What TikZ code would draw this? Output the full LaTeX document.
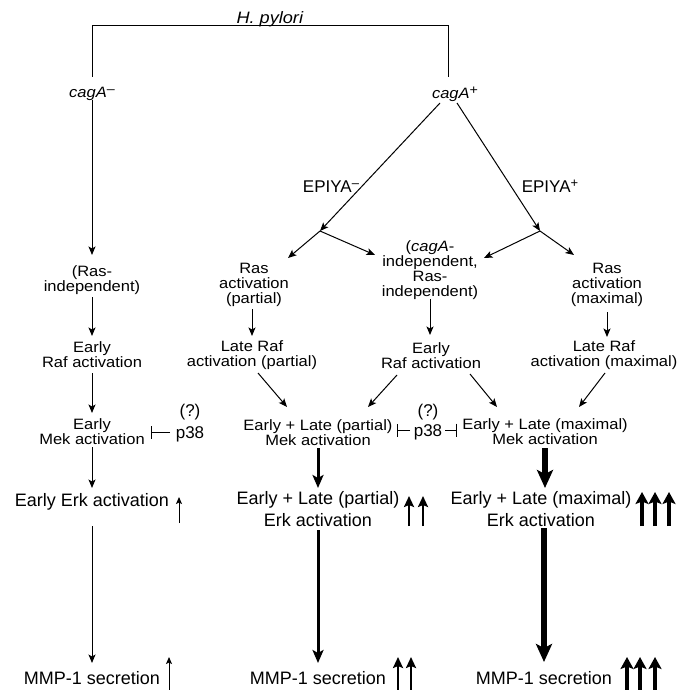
\documentclass[tikz,border=0pt]{standalone}
\usepackage{fontspec}
\setmainfont{Liberation Sans}
\newfontfamily\smfam[FakeStretch=1.1]{Liberation Sans}
\usetikzlibrary{arrows.meta}
\newcommand{\fsm}{\smfam\fontsize{15}{15}\selectfont}
\newcommand{\fbg}{\fontsize{18}{21.5}\selectfont}
\newcommand{\fmd}{\fontsize{17}{19}\selectfont}
\newcommand{\supsc}[1]{\raisebox{0.55ex}{\fontsize{13}{13}\selectfont #1}}
\begin{document}
\begin{tikzpicture}[x=1pt,y=-1pt,line join=miter,
  txt/.style={inner sep=0pt, align=center, font=\fsm},
  bigtxt/.style={inner sep=0pt, align=center, font=\fbg},
  medtxt/.style={inner sep=0pt, align=center, font=\fmd},
  ln/.style={line width=1pt},
  arr/.style={line width=1pt, -{Stealth[length=8.5pt,width=7pt,inset=2pt]}},
  tbar/.style={line width=1pt, -{Bar[width=13pt,line width=1pt]}},
  arrM/.style={line width=3pt, -{Stealth[length=13pt,width=11pt,inset=3pt]}},
  arrL/.style={line width=6.8pt, -{Stealth[length=18pt,width=16pt,inset=4pt]}},
  upS/.style={line width=1pt, -{Stealth[length=7pt,width=6pt,inset=1.5pt]}},
  upM/.style={line width=2.7pt, -{Stealth[length=11pt,width=10pt,inset=2pt]}},
  upL/.style={line width=3.6pt, -{Stealth[length=12pt,width=13pt,inset=2.5pt]}}]
\useasboundingbox (0,0) rectangle (677,690);

% ---- nodes ----
\node[txt, font=\smfam\fontsize{16.5}{16}\selectfont] (hp) at (270,19) {\textit{H. pylori}};
\node[txt] (cagm) at (92,94) {\textit{cagA}\supsc{\textendash}};
\node[txt] (cagp) at (455,94) {\textit{cagA}\supsc{+}};
\node[medtxt] (epm) at (331,187) {EPIYA\supsc{\textendash}};
\node[medtxt] (epp) at (550,186) {EPIYA\supsc{+}};
\coordinate (bl) at (320,231);
\coordinate (br) at (540,231);

\node[txt] (rasind) at (92,280.5) {(Ras-\\independent)};
\node[txt] (rafEa) at (92,355) {Early\\Raf activation};
\node[txt] (mekEa) at (92,432) {Early\\Mek activation};
\node[medtxt] (qa) at (190,412) {(?)};
\node[medtxt] (p38a) at (190,434) {p38};
\node[bigtxt] (erkE) at (92,502) {Early Erk activation};
\node[bigtxt] (mmpa) at (92,678) {MMP-1 secretion};

\node[txt] (rasp) at (254,285) {Ras\\activation\\(partial)};
\node[txt] (lrafp) at (252,355) {Late Raf\\activation (partial)};
\node[txt] (mekp) at (318,433) {Early + Late (partial)\\Mek activation};
\node[bigtxt] (erkp) at (318,509) {Early + Late (partial)\\Erk activation};
\node[bigtxt] (mmpp) at (318,678) {MMP-1 secretion};

\node[txt] (casind) at (430,270) {(\textit{cagA}-\\independent,\\Ras-\\independent)};
\node[txt] (rafEb) at (431,356) {Early\\Raf activation};
\node[medtxt] (qb) at (428,412) {(?)};
\node[medtxt] (p38b) at (428,432) {p38};

\node[txt] (rasm) at (607,285) {Ras\\activation\\(maximal)};
\node[txt] (lrafm) at (604,355) {Late Raf\\activation (maximal)};
\node[txt] (mekm) at (545,432) {Early + Late (maximal)\\Mek activation};
\node[bigtxt] (erkm) at (541,509) {Early + Late (maximal)\\Erk activation};
\node[bigtxt] (mmpm) at (544,678) {MMP-1 secretion};

% ---- connectors ----
\draw[ln] ([shift={(0,-17)}]cagm.center) |- ([shift={(-7,-68)}]cagp.center) -- ([shift={(-7,-17)}]cagp.center);
\draw[arr] ([shift={(0,6)}]cagm.center) -- ([shift={(0,-25.5)}]rasind.center);
\draw[arr] ([shift={(0,16.5)}]rasind.center) -- ([shift={(0,-19)}]rafEa.center);
\draw[arr] ([shift={(0,18)}]rafEa.center) -- ([shift={(0,-19)}]mekEa.center);
\draw[arr] ([shift={(0,15)}]mekEa.center) -- ([shift={(0,-14)}]erkE.center);
\draw[arr] ([shift={(0,24)}]erkE.center) -- ([shift={(0,-15)}]mmpa.center);
\draw[tbar] ([shift={(-20,-2)}]p38a.center) -- ([shift={(-39,-2)}]p38a.center);

\draw[arr] ([shift={(-15,9)}]cagp.center) -- (bl);
\draw[arr] ([shift={(2,9)}]cagp.center) -- (br);
\draw[arr] (bl) -- ([shift={(34,-27)}]rasp.center);
\draw[arr] (bl) -- ([shift={(-55,-15)}]casind.center);
\draw[arr] (br) -- ([shift={(54,-12)}]casind.center);
\draw[arr] (br) -- ([shift={(-33,-30)}]rasm.center);

\draw[arr] ([shift={(-2,24)}]rasp.center) -- ([shift={(0,-19)}]lrafp.center);
\draw[arr] ([shift={(0,29)}]casind.center) -- ([shift={(-1,-21)}]rafEb.center);
\draw[arr] ([shift={(0,27)}]rasm.center) -- ([shift={(3,-18)}]lrafm.center);

\draw[arr] ([shift={(6,18)}]lrafp.center) -- ([shift={(-31,-26)}]mekp.center);
\draw[arr] ([shift={(-34,19)}]rafEb.center) -- ([shift={(50,-26)}]mekp.center);
\draw[arr] ([shift={(39,18)}]rafEb.center) -- ([shift={(-48,-25)}]mekm.center);
\draw[arr] ([shift={(1,18)}]lrafm.center) -- ([shift={(34,-25)}]mekm.center);

\draw[tbar] ([shift={(-18,-2)}]p38b.center) -- ([shift={(-31,-2)}]p38b.center);
\draw[tbar] ([shift={(17,-2)}]p38b.center) -- ([shift={(29,-2)}]p38b.center);

\draw[arrM] ([shift={(0,15)}]mekp.center) -- ([shift={(0,-21)}]erkp.center);
\draw[arrM] ([shift={(0,21)}]erkp.center) -- ([shift={(0,-15)}]mmpp.center);
\draw[arrL] ([shift={(0,16)}]mekm.center) -- ([shift={(4,-21)}]erkm.center);
\draw[arrL] ([shift={(3,19)}]erkm.center) -- ([shift={(0,-16)}]mmpm.center);

% ---- level markers ----
\draw[upS] ([shift={(87,21)}]erkE.center) -- ([shift={(87,-5)}]erkE.center);
\draw[upS] ([shift={(77,12)}]mmpa.center) -- ([shift={(77,-21)}]mmpa.center);
\draw[upM] ([shift={(91,17)}]erkp.center) -- ([shift={(91,-13)}]erkp.center);
\draw[upM] ([shift={(105,17)}]erkp.center) -- ([shift={(105,-13)}]erkp.center);
\draw[upM] ([shift={(80,12)}]mmpp.center) -- ([shift={(80,-21)}]mmpp.center);
\draw[upM] ([shift={(93,12)}]mmpp.center) -- ([shift={(93,-21)}]mmpp.center);
\draw[upL] ([shift={(101,17)}]erkm.center) -- ([shift={(101,-17)}]erkm.center);
\draw[upL] ([shift={(114,17)}]erkm.center) -- ([shift={(114,-17)}]erkm.center);
\draw[upL] ([shift={(128,17)}]erkm.center) -- ([shift={(128,-17)}]erkm.center);
\draw[upL] ([shift={(83,12)}]mmpm.center) -- ([shift={(83,-21)}]mmpm.center);
\draw[upL] ([shift={(96,12)}]mmpm.center) -- ([shift={(96,-21)}]mmpm.center);
\draw[upL] ([shift={(111,12)}]mmpm.center) -- ([shift={(111,-21)}]mmpm.center);
\end{tikzpicture}
\end{document}
